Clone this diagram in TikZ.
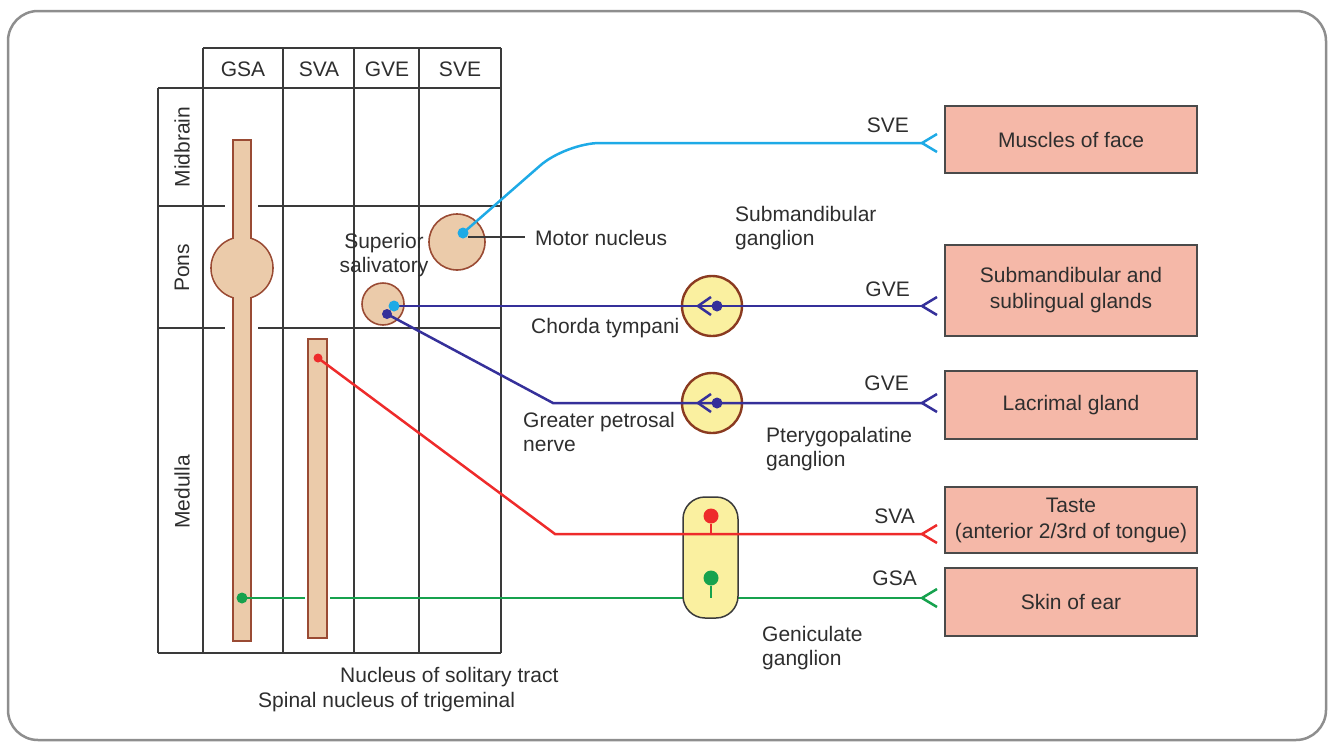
\documentclass[tikz,border=0pt]{standalone}
\usepackage{fontspec}
\setmainfont{Liberation Sans}
\definecolor{framec}{HTML}{8E8E8E}
\definecolor{gridc}{HTML}{3A3A3A}
\definecolor{txt}{HTML}{2E2E2E}
\definecolor{nucfill}{HTML}{EBCBAA}
\definecolor{nucline}{HTML}{9A4B34}
\definecolor{ganfill}{HTML}{FAF0A0}
\definecolor{ganline}{HTML}{8A3A20}
\definecolor{boxfill}{HTML}{F5B8A8}
\definecolor{boxline}{HTML}{4A4A4A}
\definecolor{cyanc}{HTML}{1EAAE6}
\definecolor{bluec}{HTML}{35309A}
\definecolor{redc}{HTML}{EE2B2B}
\definecolor{greenc}{HTML}{16A24E}
\tikzset{
  lbl/.style={font=\fontsize{21}{24.5}\selectfont, text=txt, inner sep=0pt, align=left},
  gridline/.style={draw=gridc, line width=1.3pt},
  nuc/.style={fill=nucfill, draw=nucline, line width=1.6pt},
  gang/.style={circle, fill=ganfill, draw=ganline, line width=2.4pt, minimum size=60pt, inner sep=0pt},
  organ/.style={rectangle, fill=boxfill, draw=boxline, line width=1.5pt, minimum width=252pt,
    align=center, font=\fontsize{21}{26}\selectfont, text=txt, inner sep=0pt},
  fiber/.style={line width=2.5pt},
  knob/.style={circle, inner sep=0pt, minimum size=#1},
  knob/.default=10pt,
  nervefork/.pic={\draw (0,0) -- (15,-9) (0,0) -- (15,9);},
  innerfork/.pic={\draw (13,-9) -- (0,0) -- (13,9);}
}
\begin{document}
\begin{tikzpicture}[x=1pt,y=-1pt]
\useasboundingbox (0,0) rectangle (1334,742);
% outer frame
\draw[framec, line width=2.5pt, rounded corners=30pt] (8,11) rectangle (1326,740);

% table of columns and brain levels
\draw[gridline] (203,48) -- (501,48);
\draw[gridline] (158,88) -- (501,88);
\draw[gridline] (158,206) -- (501,206);
\draw[gridline] (158,328) -- (501,328);
\draw[gridline] (158,653) -- (501,653);
\draw[gridline] (158,88) -- (158,653);
\foreach \x in {203,283,354,419,501} \draw[gridline] (\x,48) -- (\x,653);

\node[lbl] (hgsa) at (243,69) {GSA};
\node[lbl] (hsva) at (319,69) {SVA};
\node[lbl] (hgve) at (387,69) {GVE};
\node[lbl] (hsve) at (460,69) {SVE};
\node[lbl, rotate=90] (midbrain) at (182,147) {Midbrain};
\node[lbl, rotate=90] (pons) at (182,268) {Pons};
\node[lbl, rotate=90] (medulla) at (182,492) {Medulla};

% spinal nucleus of trigeminal with its pontine swelling
\fill[white] (225,138) rectangle (258,645);
\filldraw[nuc] (233,140) rectangle (251,641);
\filldraw[nuc] (242,268) circle (31);
\fill[nucfill] (234,141) rectangle (250,640);
\fill[nucfill] (242,268) circle (30);
\coordinate (gsadot) at (242,598);

% general somatic afferent fibre
\coordinate (gsaend) at (922,598);
\draw[fiber, greenc] (gsadot) -- (gsaend);

% nucleus of solitary tract
\fill[white] (305,336) rectangle (330,641);
\filldraw[nuc] (308,339) rectangle (327,638);

% motor nucleus and superior salivatory nucleus
\node[circle, nuc, minimum size=56pt, inner sep=0pt] (motor) at (457,242) {};
\node[circle, nuc, minimum size=42pt, inner sep=0pt] (salivatory) at (383,304) {};

% ganglia
\node[gang] (smg) at (712,306) {};
\node[gang] (ptg) at (712,403) {};
\node[rectangle, rounded corners=22pt, fill=ganfill, draw=gridc, line width=1.5pt,
  minimum width=55pt, minimum height=121pt, inner sep=0pt] (genic) at (710.5,557.5) {};

% target organs
\node[organ, minimum height=67pt] (face) at (1071,139.5) {Muscles of face};
\node[organ, minimum height=91pt] (glands) at (1071,290.5) {Submandibular and\\sublingual glands};
\node[organ, minimum height=68pt] (lacrimal) at (1071,405) {Lacrimal gland};
\node[organ, minimum height=66pt] (taste) at (1071,520) {Taste\\(anterior 2/3rd of tongue)};
\node[organ, minimum height=68pt] (ear) at (1071,602) {Skin of ear};

% fibre end points
\coordinate (mdot) at (463,233);
\coordinate (sdotA) at (394,306);
\coordinate (sdotB) at (387,314);
\coordinate (svadot) at (318,358);
\coordinate (sveend) at (922,143);
\coordinate (ctend) at (922,306);
\coordinate (gpend) at (922,403);
\coordinate (svaend) at (922,534);
\coordinate (gpbend) at (553,403);
\coordinate (svabend) at (555,534);

% special visceral efferent
\draw[fiber, cyanc, rounded corners=34pt] (mdot) -- (566,143) -- (sveend);
\pic[color=cyanc, line width=2.5pt] at (sveend) {nervefork};

% chorda tympani
\draw[fiber, bluec] (sdotA) -- (ctend);
\pic[color=bluec, line width=2.5pt] at (ctend) {nervefork};
\pic[color=bluec, line width=2.5pt] at (698,306) {innerfork};
\node[knob=11pt, fill=bluec] (smgcell) at (717,306) {};

% greater petrosal nerve
\draw[fiber, bluec] (sdotB) -- (gpbend) -- (gpend);
\pic[color=bluec, line width=2.5pt] at (gpend) {nervefork};
\pic[color=bluec, line width=2.5pt] at (698,403) {innerfork};
\node[knob=11pt, fill=bluec] (ptgcell) at (717,403) {};

% special visceral afferent (taste)
\draw[fiber, redc] (svadot) -- (svabend) -- (svaend);
\pic[color=redc, line width=2.5pt] at (svaend) {nervefork};
\node[knob=15pt, fill=redc] (redcell) at (711,516) {};
\draw[fiber, redc] (redcell) -- (711,534);

% general somatic afferent
\pic[color=greenc, line width=2.5pt] at (gsaend) {nervefork};
\node[knob=15pt, fill=greenc] (greencell) at (711,578) {};
\draw[fiber, greenc] (greencell) -- (711,598);

% dots inside the nuclei
\node[knob=11pt, fill=cyanc] (mcell) at (mdot) {};
\node[knob=11pt, fill=cyanc] (scellA) at (sdotA) {};
\node[knob=10pt, fill=bluec] (scellB) at (sdotB) {};
\node[knob=9pt, fill=redc] (svacell) at (svadot) {};
\node[knob=11pt, fill=greenc] (gsacell) at (gsadot) {};

% pointer for the motor nucleus
\coordinate (mptr) at (468,237);
\node[lbl, anchor=west] (motorlbl) at (535,238) {Motor nucleus};
\draw[gridc, line width=1.2pt] (mptr) -- (525,237);

% labels
\node[lbl, align=center] (saltxt) at (384,255) {Superior\\salivatory};
\node[lbl, anchor=west] (smgtxt) at (735,228) {Submandibular\\ganglion};
\node[lbl, anchor=west] (cttxt) at (531,328) {Chorda tympani};
\node[lbl, anchor=west] (gptxt) at (523,432) {Greater petrosal\\nerve};
\node[lbl, anchor=west] (ptgtxt) at (766,449) {Pterygopalatine\\ganglion};
\node[lbl, anchor=west] (gentxt) at (762,648) {Geniculate\\ganglion};
\node[lbl, anchor=west] (nsttxt) at (340,677) {Nucleus of solitary tract};
\node[lbl, anchor=west] (sntxt) at (258,702) {Spinal nucleus of trigeminal};
\node[lbl, anchor=east] (sve) at (909,125) {SVE};
\node[lbl, anchor=east] (gve1) at (910,289) {GVE};
\node[lbl, anchor=east] (gve2) at (909,383) {GVE};
\node[lbl, anchor=east] (sva) at (915,516) {SVA};
\node[lbl, anchor=east] (gsa) at (917,578) {GSA};
\end{tikzpicture}
\end{document}
